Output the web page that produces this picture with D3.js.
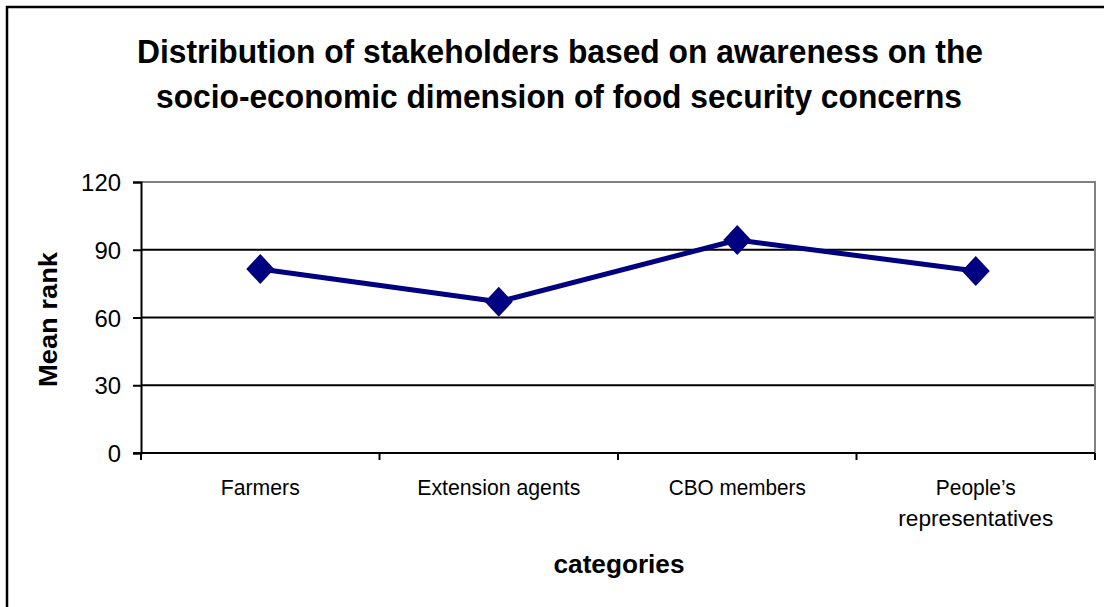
<!DOCTYPE html>
<html>
<head>
<meta charset="utf-8">
<script src="https://cdn.jsdelivr.net/npm/d3@7"></script>
<style>
  html, body { margin: 0; padding: 0; background: #fff; }
  svg { display: block; }
  text { font-family: "Liberation Sans", Arial, sans-serif; fill: #000; }
</style>
</head>
<body>
<svg id="chart" width="1104" height="607"></svg>
<script>
// Mean rank of awareness per stakeholder group
const categories = ["Farmers", "Extension agents", "CBO members", "People\u2019s representatives"];
const meanRank = [81.5, 67, 94.3, 80.6];
const yTicks = [0, 30, 60, 90, 120];
const titleLines = [
  "Distribution of stakeholders based on awareness on the",
  "socio-economic dimension of food security concerns"
];
const xTitle = "categories";
const yTitle = "Mean rank";

const svg = d3.select("#chart");
const plot = { left: 141, right: 1095, top: 182, bottom: 453 };

// narrow, tall type: set the run width explicitly
function fit(sel, w) {
  sel.attr("textLength", w).attr("lengthAdjust", "spacingAndGlyphs");
}

// outer chart frame (runs past the right and bottom edges)
svg.append("rect")
  .attr("x", 7).attr("y", 7)
  .attr("width", 1110).attr("height", 620)
  .attr("fill", "none").attr("stroke", "#000").attr("stroke-width", 2.5);

const x = d3.scaleBand().domain(categories).range([plot.left, plot.right]);
const y = d3.scaleLinear().domain([0, 120]).range([plot.bottom, plot.top]);

// title
const title = svg.append("text")
  .attr("text-anchor", "middle")
  .style("font-weight", "bold").style("font-size", "33px");
fit(title.append("tspan").attr("x", 560).attr("y", 63).text(titleLines[0]), 846);
fit(title.append("tspan").attr("x", 559).attr("y", 108).text(titleLines[1]), 806);

// horizontal gridlines
svg.append("g").selectAll("line")
  .data(yTicks.filter(t => t > 0 && t < 120))
  .join("line")
  .attr("x1", plot.left).attr("x2", plot.right)
  .attr("y1", d => y(d)).attr("y2", d => y(d))
  .attr("stroke", "#000").attr("stroke-width", 2);

// plot area border (top and right) in grey
svg.append("path")
  .attr("d", `M${plot.left},${y(120)}H${plot.right}V${plot.bottom}`)
  .attr("fill", "none").attr("stroke", "#808080").attr("stroke-width", 2);

// y axis
const yAxis = svg.append("g")
  .attr("transform", `translate(${plot.left},0)`)
  .call(d3.axisLeft(y).tickValues(yTicks).tickSize(8).tickPadding(12));
yAxis.select(".domain").attr("stroke", "#000").attr("stroke-width", 2);
yAxis.selectAll(".tick line").attr("stroke", "#000").attr("stroke-width", 2);
yAxis.selectAll(".tick text")
  .style("font-size", "24px").style("font-family", "Liberation Sans, Arial, sans-serif")
  .attr("fill", "#000").attr("dy", "0.36em")
  .each(function () {
    const t = d3.select(this);
    fit(t, t.text().length * 13.3);
  });

// x axis baseline and category boundary ticks
svg.append("line")
  .attr("x1", plot.left - 8).attr("x2", plot.right)
  .attr("y1", plot.bottom).attr("y2", plot.bottom)
  .attr("stroke", "#000").attr("stroke-width", 2);
const bounds = categories.map(c => x(c)).concat([plot.right]);
svg.append("g").selectAll("line")
  .data(bounds).join("line")
  .attr("x1", d => d).attr("x2", d => d)
  .attr("y1", plot.bottom).attr("y2", plot.bottom + 7)
  .attr("stroke", "#000").attr("stroke-width", 2);

// category labels (the long one wraps onto two lines)
const labelLines = [["Farmers"], ["Extension agents"], ["CBO members"], ["People\u2019s", "representatives"]];
const labelWidths = [[79], [163], [137], [80, 155]];
const xLab = svg.append("g").selectAll("text")
  .data(categories).join("text")
  .attr("text-anchor", "middle")
  .style("font-size", "22px");
xLab.each(function (d, i) {
  const t = d3.select(this);
  const cx = x(d) + x.bandwidth() / 2;
  labelLines[i].forEach((p, j) =>
    fit(t.append("tspan").attr("x", cx).attr("y", 495 + j * 31).text(p), labelWidths[i][j]));
});

// axis titles
fit(svg.append("text")
  .attr("x", 619).attr("y", 573)
  .attr("text-anchor", "middle")
  .style("font-weight", "bold").style("font-size", "25px")
  .text(xTitle), 131);
fit(svg.append("text")
  .attr("transform", `translate(57,${(plot.top + plot.bottom) / 2 + 2}) rotate(-90)`)
  .attr("text-anchor", "middle")
  .style("font-weight", "bold").style("font-size", "25px")
  .text(yTitle), 135);

// series line
const cx = d => x(d) + x.bandwidth() / 2;
svg.append("path")
  .datum(categories.map((c, i) => [cx(c), y(meanRank[i])]))
  .attr("d", d3.line())
  .attr("fill", "none").attr("stroke", "#000080").attr("stroke-width", 5)
  .attr("stroke-linejoin", "round");

// diamond markers
svg.append("g").selectAll("path")
  .data(categories.map((c, i) => [cx(c), y(meanRank[i])]))
  .join("path")
  .attr("d", d => `M${d[0]},${d[1] - 15}L${d[0] + 14},${d[1]}L${d[0]},${d[1] + 15}L${d[0] - 14},${d[1]}Z`)
  .attr("fill", "#000080");
</script>
</body>
</html>
